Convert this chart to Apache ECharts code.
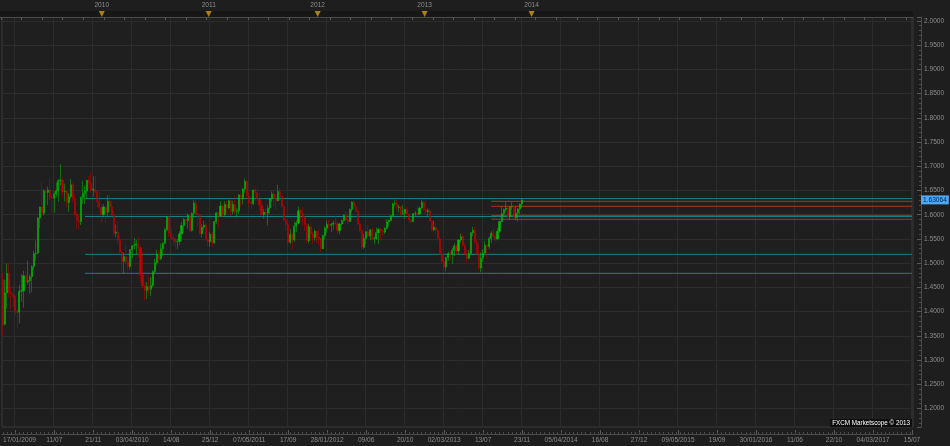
<!DOCTYPE html>
<html>
<head>
<meta charset="utf-8">
<title>GBP/USD weekly</title>
<script src="https://cdn.jsdelivr.net/npm/echarts@6/dist/echarts.min.js"></script>
<style>
  html, body { margin: 0; padding: 0; background: #1e1e1e; }
  #chart { width: 950px; height: 446px; }
</style>
</head>
<body>
<div id="chart"></div>
<script>
const FONT = '"Liberation Sans", Arial, sans-serif';

// weekly candles, labelled by the saturday that starts the week
const firstWeek = [2009, 0, 17];
const weekCount = 444; // axis runs on to 15/07/2017

// x axis labels (first label of each year shows the year)
const tickDates = ['17/01/2009', '11/07/2009', '21/11/2009', '03/04/2010', '14/08/2010', '25/12/2010',
    '07/05/2011', '17/09/2011', '28/01/2012', '09/06/2012', '20/10/2012', '02/03/2013', '13/07/2013',
    '23/11/2013', '05/04/2014', '16/08/2014', '27/12/2014', '09/05/2015', '19/09/2015', '30/01/2016',
    '11/06/2016', '22/10/2016', '04/03/2017', '15/07/2017'];
const tickLabels = ['17/01/2009', '11/07', '21/11', '03/04/2010', '14/08', '25/12', '07/05/2011', '17/09',
    '28/01/2012', '09/06', '20/10', '02/03/2013', '13/07', '23/11', '05/04/2014', '16/08', '27/12',
    '09/05/2015', '19/09', '30/01/2016', '11/06', '22/10', '04/03/2017', '15/07'];

// year markers on the top strip
const yearDates = ['26/12/2009', '25/12/2010', '31/12/2011', '29/12/2012', '28/12/2013'];
const yearLabels = ['2010', '2011', '2012', '2013', '2014'];

// [open, close, low, high]
const weekly = [
    // 2009
    [1.4660, 1.3740, 1.3503, 1.4790], [1.3740, 1.4390, 1.3710, 1.4660], [1.4390, 1.4790, 1.4060, 1.4990],
    [1.4790, 1.4390, 1.4300, 1.4980], [1.4390, 1.4360, 1.4050, 1.4510], [1.4360, 1.4310, 1.4090, 1.4550],
    [1.4310, 1.4010, 1.3930, 1.4340], [1.4010, 1.3990, 1.3657, 1.4050], [1.3990, 1.4420, 1.3760, 1.4550],
    [1.4420, 1.4430, 1.4200, 1.4780], [1.4430, 1.4740, 1.4080, 1.4840], [1.4740, 1.4610, 1.4530, 1.4830],
    [1.4610, 1.4640, 1.4560, 1.5050], [1.4640, 1.4720, 1.4370, 1.4770], [1.4720, 1.4930, 1.4400, 1.4960],
    [1.4930, 1.5200, 1.4860, 1.5250], [1.5200, 1.5210, 1.5060, 1.5470], [1.5210, 1.5930, 1.5180, 1.5960],
    [1.5930, 1.6160, 1.5730, 1.6170], [1.6160, 1.6030, 1.5880, 1.6660], [1.6030, 1.6490, 1.5980, 1.6530],
    [1.6490, 1.6460, 1.6230, 1.6530], [1.6460, 1.6510, 1.6200, 1.6580], [1.6510, 1.6350, 1.6300, 1.6740],
    [1.6350, 1.6340, 1.6020, 1.6420], [1.6340, 1.6430, 1.6040, 1.6480], [1.6430, 1.6490, 1.6360, 1.6660],
    [1.6490, 1.6700, 1.6270, 1.6740], [1.6700, 1.6710, 1.6610, 1.7043], [1.6710, 1.6470, 1.6370, 1.6750],
    [1.6470, 1.6480, 1.6270, 1.6640], [1.6480, 1.6250, 1.6160, 1.6500], [1.6250, 1.6370, 1.6060, 1.6450],
    [1.6370, 1.6620, 1.6330, 1.6740], [1.6620, 1.6330, 1.6270, 1.6660], [1.6330, 1.6010, 1.5960, 1.6410],
    [1.6010, 1.5870, 1.5708, 1.6050], [1.5870, 1.5860, 1.5710, 1.5990], [1.5860, 1.6350, 1.5790, 1.6380],
    [1.6350, 1.6440, 1.6230, 1.6700], [1.6440, 1.6490, 1.6220, 1.6600], [1.6490, 1.6710, 1.6320, 1.6720],
    [1.6710, 1.6650, 1.6530, 1.6800], [1.6650, 1.6510, 1.6460, 1.6880], [1.6510, 1.6530, 1.6370, 1.6790],
    [1.6530, 1.6480, 1.6430, 1.6800], [1.6480, 1.6270, 1.6160, 1.6520], [1.6270, 1.6150, 1.6120, 1.6470],
    [1.6150, 1.6000, 1.5840, 1.6220], [1.6000, 1.6160, 1.5950, 1.6220],
    // 2010
    [1.6160, 1.6050, 1.5830, 1.6190], [1.6050, 1.6280, 1.5980, 1.6400], [1.6280, 1.6160, 1.6080, 1.6430],
    [1.6160, 1.5990, 1.5960, 1.6290], [1.5990, 1.5620, 1.5580, 1.6080], [1.5620, 1.5640, 1.5540, 1.5800],
    [1.5640, 1.5470, 1.5390, 1.5870], [1.5470, 1.5230, 1.5200, 1.5570], [1.5230, 1.5040, 1.4781, 1.5260],
    [1.5040, 1.5140, 1.4780, 1.5220], [1.5140, 1.5020, 1.4980, 1.5380], [1.5020, 1.4930, 1.4830, 1.5140],
    [1.4930, 1.5280, 1.4870, 1.5290], [1.5280, 1.5360, 1.5100, 1.5370], [1.5360, 1.5370, 1.5290, 1.5520],
    [1.5370, 1.5400, 1.5190, 1.5480], [1.5400, 1.5320, 1.5120, 1.5540], [1.5320, 1.4760, 1.4600, 1.5350],
    [1.4760, 1.4530, 1.4470, 1.5230], [1.4530, 1.4440, 1.4229, 1.4590], [1.4440, 1.4520, 1.4260, 1.4620],
    [1.4520, 1.4460, 1.4360, 1.4740], [1.4460, 1.4540, 1.4330, 1.4710], [1.4540, 1.4830, 1.4500, 1.4850],
    [1.4830, 1.5010, 1.4780, 1.5090], [1.5010, 1.5190, 1.4960, 1.5280], [1.5190, 1.5090, 1.5010, 1.5260],
    [1.5090, 1.5300, 1.5060, 1.5410], [1.5300, 1.5410, 1.5150, 1.5430], [1.5410, 1.5690, 1.5390, 1.5720],
    [1.5690, 1.5950, 1.5660, 1.5960], [1.5950, 1.5620, 1.5540, 1.5970], [1.5620, 1.5530, 1.5490, 1.5720],
    [1.5530, 1.5510, 1.5350, 1.5610], [1.5510, 1.5440, 1.5290, 1.5520], [1.5440, 1.5450, 1.5290, 1.5500],
    [1.5450, 1.5600, 1.5370, 1.5660], [1.5600, 1.5780, 1.5450, 1.5850], [1.5780, 1.5900, 1.5650, 1.5930],
    [1.5900, 1.5870, 1.5770, 1.5990], [1.5870, 1.5990, 1.5710, 1.6030], [1.5990, 1.5670, 1.5650, 1.6000],
    [1.5670, 1.6030, 1.5650, 1.6050], [1.6030, 1.6240, 1.5960, 1.6300], [1.6240, 1.6010, 1.5990, 1.6300],
    [1.6010, 1.5990, 1.5750, 1.6040], [1.5990, 1.5610, 1.5600, 1.6000], [1.5610, 1.5740, 1.5530, 1.5800],
    [1.5740, 1.5790, 1.5680, 1.5880], [1.5790, 1.5480, 1.5460, 1.5840], [1.5480, 1.5440, 1.5350, 1.5510],
    [1.5440, 1.5600, 1.5340, 1.5650],
    // 2011
    [1.5600, 1.5420, 1.5350, 1.5640], [1.5420, 1.5860, 1.5400, 1.5870], [1.5860, 1.6040, 1.5810, 1.6060],
    [1.6040, 1.5980, 1.5740, 1.6060], [1.5980, 1.6180, 1.5960, 1.6280], [1.6180, 1.6000, 1.5950, 1.6200],
    [1.6000, 1.6210, 1.5970, 1.6280], [1.6210, 1.6140, 1.6020, 1.6280], [1.6140, 1.6290, 1.6110, 1.6310],
    [1.6290, 1.6070, 1.5980, 1.6320], [1.6070, 1.6210, 1.6010, 1.6280], [1.6210, 1.6070, 1.6020, 1.6400],
    [1.6070, 1.6080, 1.5950, 1.6130], [1.6080, 1.6410, 1.6020, 1.6420], [1.6410, 1.6350, 1.6150, 1.6450],
    [1.6350, 1.6530, 1.6210, 1.6550], [1.6530, 1.6690, 1.6450, 1.6747], [1.6690, 1.6390, 1.6330, 1.6720],
    [1.6390, 1.6260, 1.6170, 1.6470], [1.6260, 1.6230, 1.6120, 1.6390], [1.6230, 1.6510, 1.6200, 1.6520],
    [1.6510, 1.6460, 1.6290, 1.6530], [1.6460, 1.6330, 1.6290, 1.6540], [1.6330, 1.6200, 1.6080, 1.6450],
    [1.6200, 1.6000, 1.5970, 1.6290], [1.6000, 1.6050, 1.5920, 1.6120], [1.6050, 1.6030, 1.5930, 1.6130],
    [1.6030, 1.6140, 1.5780, 1.6200], [1.6140, 1.6330, 1.6010, 1.6350], [1.6330, 1.6430, 1.6260, 1.6480],
    [1.6430, 1.6330, 1.6170, 1.6490], [1.6330, 1.6290, 1.6100, 1.6430], [1.6290, 1.6480, 1.6270, 1.6620],
    [1.6480, 1.6380, 1.6280, 1.6550], [1.6380, 1.6170, 1.6150, 1.6400], [1.6170, 1.5890, 1.5850, 1.6210],
    [1.5890, 1.5800, 1.5660, 1.5920], [1.5800, 1.5430, 1.5380, 1.5830], [1.5430, 1.5590, 1.5400, 1.5700],
    [1.5590, 1.5480, 1.5272, 1.5610], [1.5480, 1.5760, 1.5440, 1.5860], [1.5760, 1.5830, 1.5640, 1.5880],
    [1.5830, 1.6080, 1.5800, 1.6170], [1.6080, 1.6030, 1.5870, 1.6120], [1.6030, 1.5950, 1.5770, 1.6160],
    [1.5950, 1.5790, 1.5670, 1.5970], [1.5790, 1.5460, 1.5420, 1.5820], [1.5460, 1.5750, 1.5410, 1.5810],
    [1.5750, 1.5600, 1.5500, 1.5800], [1.5600, 1.5530, 1.5400, 1.5640], [1.5530, 1.5660, 1.5470, 1.5700],
    [1.5660, 1.5540, 1.5420, 1.5670],
    // 2012
    [1.5540, 1.5510, 1.5380, 1.5700], [1.5510, 1.5300, 1.5234, 1.5520], [1.5300, 1.5570, 1.5290, 1.5590],
    [1.5570, 1.5720, 1.5490, 1.5760], [1.5720, 1.5800, 1.5630, 1.5880], [1.5800, 1.5780, 1.5700, 1.5900],
    [1.5780, 1.5800, 1.5640, 1.5830], [1.5800, 1.5830, 1.5690, 1.5880], [1.5830, 1.5820, 1.5770, 1.5990],
    [1.5820, 1.5670, 1.5600, 1.5870], [1.5670, 1.5810, 1.5600, 1.5830], [1.5810, 1.5880, 1.5760, 1.5900],
    [1.5880, 1.5990, 1.5860, 1.6010], [1.5990, 1.5890, 1.5870, 1.6060], [1.5890, 1.5860, 1.5800, 1.5990],
    [1.5860, 1.6110, 1.5850, 1.6130], [1.6110, 1.6260, 1.6060, 1.6280], [1.6260, 1.6160, 1.6120, 1.6300],
    [1.6160, 1.6080, 1.6050, 1.6240], [1.6080, 1.5810, 1.5780, 1.6110], [1.5810, 1.5670, 1.5640, 1.5860],
    [1.5670, 1.5330, 1.5270, 1.5700], [1.5330, 1.5510, 1.5290, 1.5600], [1.5510, 1.5650, 1.5390, 1.5660],
    [1.5650, 1.5560, 1.5540, 1.5780], [1.5560, 1.5690, 1.5470, 1.5700], [1.5690, 1.5500, 1.5480, 1.5730],
    [1.5500, 1.5510, 1.5390, 1.5560], [1.5510, 1.5630, 1.5480, 1.5740], [1.5630, 1.5700, 1.5400, 1.5720],
    [1.5700, 1.5670, 1.5480, 1.5730], [1.5670, 1.5640, 1.5550, 1.5700], [1.5640, 1.5720, 1.5600, 1.5740],
    [1.5720, 1.5850, 1.5700, 1.5910], [1.5850, 1.5880, 1.5750, 1.5900], [1.5880, 1.5980, 1.5860, 1.6000],
    [1.5980, 1.6220, 1.5960, 1.6250], [1.6220, 1.6230, 1.6170, 1.6310], [1.6230, 1.6150, 1.6100, 1.6300],
    [1.6150, 1.6160, 1.6050, 1.6200], [1.6160, 1.6020, 1.5970, 1.6190], [1.6020, 1.6030, 1.5990, 1.6200],
    [1.6030, 1.6110, 1.5920, 1.6120], [1.6110, 1.6010, 1.5990, 1.6160], [1.6010, 1.5890, 1.5830, 1.6060],
    [1.5890, 1.5860, 1.5820, 1.5940], [1.5860, 1.6020, 1.5850, 1.6030], [1.6020, 1.6030, 1.5970, 1.6080],
    [1.6030, 1.6010, 1.5970, 1.6180], [1.6010, 1.6140, 1.6000, 1.6170], [1.6140, 1.6260, 1.6120, 1.6310],
    [1.6260, 1.6100, 1.6060, 1.6270], [1.6100, 1.6060, 1.6020, 1.6380],
    // 2013
    [1.6060, 1.6080, 1.5960, 1.6130], [1.6080, 1.5870, 1.5850, 1.6140], [1.5870, 1.5690, 1.5660, 1.5880],
    [1.5690, 1.5740, 1.5660, 1.5880], [1.5740, 1.5680, 1.5590, 1.5830], [1.5680, 1.5500, 1.5450, 1.5710],
    [1.5500, 1.5190, 1.5170, 1.5540], [1.5190, 1.5040, 1.5000, 1.5310], [1.5040, 1.4920, 1.4880, 1.5180],
    [1.4920, 1.5120, 1.4830, 1.5130], [1.5120, 1.5200, 1.5050, 1.5240], [1.5200, 1.5190, 1.5070, 1.5230],
    [1.5190, 1.5270, 1.4990, 1.5320], [1.5270, 1.5360, 1.5150, 1.5410], [1.5360, 1.5250, 1.5170, 1.5390],
    [1.5250, 1.5480, 1.5190, 1.5490], [1.5480, 1.5550, 1.5420, 1.5610], [1.5550, 1.5370, 1.5340, 1.5610],
    [1.5370, 1.5190, 1.5180, 1.5410], [1.5190, 1.5100, 1.5010, 1.5280], [1.5100, 1.5200, 1.5080, 1.5270],
    [1.5200, 1.5630, 1.5180, 1.5640], [1.5630, 1.5680, 1.5560, 1.5750], [1.5680, 1.5430, 1.5400, 1.5750],
    [1.5430, 1.5200, 1.5180, 1.5490], [1.5200, 1.4900, 1.4860, 1.5400], [1.4900, 1.5100, 1.4810, 1.5220],
    [1.5100, 1.5210, 1.5030, 1.5280], [1.5210, 1.5370, 1.5200, 1.5460], [1.5370, 1.5340, 1.5100, 1.5400],
    [1.5340, 1.5510, 1.5290, 1.5550], [1.5510, 1.5620, 1.5420, 1.5660], [1.5620, 1.5560, 1.5540, 1.5720],
    [1.5560, 1.5500, 1.5450, 1.5620], [1.5500, 1.5660, 1.5470, 1.5720], [1.5660, 1.5860, 1.5620, 1.5880],
    [1.5860, 1.6020, 1.5840, 1.6160], [1.6020, 1.6110, 1.5960, 1.6130], [1.6110, 1.6140, 1.6050, 1.6260],
    [1.6140, 1.5960, 1.5900, 1.6170], [1.5960, 1.6160, 1.5890, 1.6180], [1.6160, 1.6170, 1.6100, 1.6260],
    [1.6170, 1.5940, 1.5920, 1.6200], [1.5940, 1.6030, 1.5880, 1.6170], [1.6030, 1.6120, 1.5860, 1.6140],
    [1.6120, 1.6220, 1.6010, 1.6240], [1.6220, 1.63064, 1.6140, 1.6340]
];
const lastPrice = 1.63064;

// horizontal levels drawn on the chart
const longLevels = [1.6333, 1.5963, 1.5183, 1.4791];
const longFrom = '24/10/2009';
const shortLevels = [1.6277, 1.6174, 1.5988, 1.5907];
const shortFrom = '10/08/2013';

function pad(n) { return n < 10 ? '0' + n : '' + n; }

const weeks = [];
for (let i = 0; i < weekCount; i++) {
    const d = new Date(Date.UTC(firstWeek[0], firstWeek[1], firstWeek[2] + i * 7));
    weeks.push(pad(d.getUTCDate()) + '/' + pad(d.getUTCMonth() + 1) + '/' + d.getUTCFullYear());
}
const lastWeek = weeks[weeks.length - 1];

const labelOf = {};
tickDates.forEach((d, k) => { labelOf[d] = tickLabels[k]; });
const yearOf = {};
yearDates.forEach((d, k) => { yearOf[d] = yearLabels[k]; });

// grid ticks every 19 weeks, first one at 28/02/2009
const onGridTick = (idx) => idx >= 6 && (idx - 6) % 19 === 0;

const teal = '#19808a';
const rust = '#a33c18';
const UP = '#00c000';
const DOWN = '#c40000';

// each level is a flat two-point line on the price axes
function levelSeries(from, p, color) {
    return {
        type: 'line', xAxisIndex: 0, yAxisIndex: 0,
        data: [[from, p], [lastWeek, p]],
        showSymbol: false, symbol: 'none', silent: true, z: 1,
        lineStyle: { color: color, width: 1, type: 'solid' },
        emphasis: { disabled: true },
    };
}
const levelLines = [];
longLevels.forEach((p) => levelLines.push(levelSeries(longFrom, p, teal)));
shortLevels.forEach((p) => levelLines.push(levelSeries(shortFrom, p, rust)));

const chart = echarts.init(document.getElementById('chart'), null, { renderer: 'canvas' });

chart.setOption({
    backgroundColor: '#1e1e1e',
    animation: false,
    textStyle: { fontFamily: FONT },
    grid: [
        { left: 0, right: 37, top: 17, bottom: 19, show: true, backgroundColor: '#1f1f1f', borderColor: '#3a3a3a', borderWidth: 1 },
        { left: 0, right: 37, top: 11, height: 6, show: true, backgroundColor: '#171717', borderWidth: 0 },
    ],
    xAxis: [
        {
            type: 'category', gridIndex: 0, data: weeks, position: 'bottom', offset: 7,
            axisLine: { show: true, lineStyle: { color: '#4a4a4a' } },
            axisTick: { show: true, inside: true, length: 4, alignWithLabel: true, interval: onGridTick, lineStyle: { color: '#5a5a5a' } },
            axisLabel: {
                show: true, interval: (idx, val) => labelOf[val] !== undefined,
                formatter: (val) => labelOf[val] || '',
                color: '#8c8c8c', fontSize: 6.6, fontFamily: FONT, margin: 3,
                alignMinLabel: 'left',
            },
            splitLine: { show: true, interval: onGridTick, lineStyle: { color: '#2c2c2c' } },
        },
        {
            // small ticks along the date axis
            type: 'category', gridIndex: 0, data: weeks, position: 'bottom', offset: 7,
            axisLine: { show: false },
            axisTick: { show: true, inside: true, length: 2, alignWithLabel: true, interval: (idx) => idx % 2 === 0, lineStyle: { color: '#4a4a4a' } },
            axisLabel: { show: false },
            splitLine: { show: false },
        },
        {
            // top strip with year markers
            type: 'category', gridIndex: 1, data: weeks, position: 'top',
            axisLine: { show: true, lineStyle: { color: '#4a4a4a' } },
            axisTick: { show: true, inside: true, length: 3, alignWithLabel: true, interval: (idx) => idx % 10 === 0, lineStyle: { color: '#555555' } },
            axisLabel: {
                show: true, interval: (idx, val) => yearOf[val] !== undefined,
                formatter: (val) => yearOf[val] || '',
                color: '#8c8c8c', fontSize: 6.6, fontFamily: FONT, margin: 2,
            },
            splitLine: { show: false },
        },
    ],
    yAxis: [
        {
            type: 'value', gridIndex: 0, position: 'right', offset: 8,
            min: 1.162, max: 2.008, splitNumber: 17, scale: true,
            axisLine: { show: true, lineStyle: { color: '#4a4a4a' } },
            axisTick: { show: true, inside: true, length: 4, lineStyle: { color: '#5a5a5a' } },
            minorTick: { show: true, splitNumber: 5, length: 2, lineStyle: { color: '#4a4a4a' } },
            axisLabel: {
                color: '#8c8c8c', fontSize: 6.6, fontFamily: FONT, margin: 3,
                showMinLabel: false, showMaxLabel: false,
                formatter: (v) => v.toFixed(4),
            },
            splitLine: { show: true, lineStyle: { color: '#2c2c2c' } },
        },
        { type: 'value', gridIndex: 1, min: 0, max: 1, show: false },
    ],
    series: [
        ...levelLines,
        {
            type: 'candlestick', xAxisIndex: 0, yAxisIndex: 0,
            data: weekly, z: 2,
            barWidth: 1.6,
            itemStyle: {
                color: UP, color0: DOWN,
                borderColor: UP, borderColor0: DOWN, borderColorDoji: UP, borderWidth: 0.5,
            },
            emphasis: { disabled: true },
        },
        {
            type: 'scatter', xAxisIndex: 2, yAxisIndex: 1,
            data: yearDates.map((d) => [d, 0.5]),
            symbol: 'triangle', symbolRotate: 180, symbolSize: [6, 6],
            itemStyle: { color: '#d29a1a' },
            silent: true,
        },
    ],
});

// current price tag on the price axis and the watermark
const priceY = chart.convertToPixel({ yAxisIndex: 0 }, lastPrice);
chart.setOption({
    graphic: [
        {
            type: 'text', x: 921, y: priceY, silent: true, z: 100,
            style: {
                text: lastPrice.toFixed(5), fill: '#02203f', font: '6.6px ' + FONT,
                verticalAlign: 'middle', backgroundColor: '#4ea8f6', padding: [1, 2, 1, 2],
            },
        },
        {
            type: 'text', right: 38, bottom: 19, silent: true, z: 100,
            style: {
                text: 'FXCM Marketscope \u00a9 2013', fill: '#ffffff', font: '6.3px ' + FONT,
                backgroundColor: '#0e0e0e', padding: [1, 2, 1, 2],
            },
        },
    ],
});
</script>
</body>
</html>
